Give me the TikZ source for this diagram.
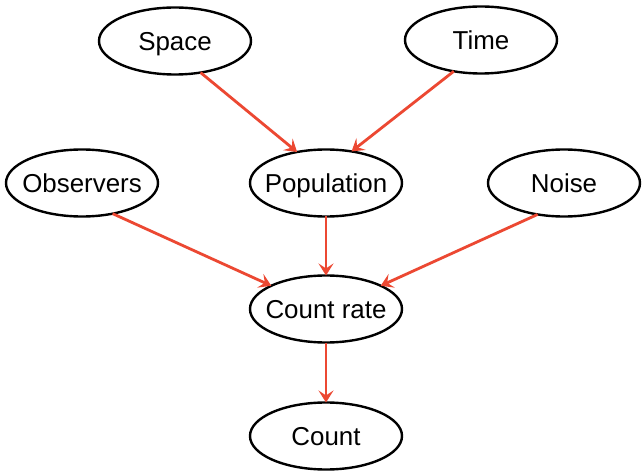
\documentclass[tikz,border=0pt]{standalone}
\usepackage{fontspec}
\setmainfont{Liberation Sans}
\usetikzlibrary{shapes.geometric,arrows.meta}
\definecolor{linkred}{RGB}{236,72,50}
\tikzset{
  var/.style={ellipse, draw=black, line width=2.4bp, minimum width=152bp,
    minimum height=67bp, inner sep=0pt, outer sep=0pt,
    text height=18.6bp, text depth=0pt,
    font=\fontsize{26}{30}\selectfont},
  link/.style={draw=linkred, line width=2.8bp,
    -{Stealth[length=12bp,width=15bp,inset=5bp]}}
}
% zero-width label so every ellipse keeps the same size
\newcommand{\lbl}[1]{\makebox[0pt]{#1}}
\begin{document}
\begin{tikzpicture}[x=1bp,y=1bp]
  \useasboundingbox (0,0) rectangle (642,-471);
  \fill[white] (0,0) rectangle (642,-471);

  \node[var] (space) at (175,-41)  {\lbl{Space}};
  \node[var] (time)  at (481,-40)  {\lbl{Time}};
  \node[var] (obs)   at (82,-183)  {\lbl{Observers}};
  \node[var] (pop)   at (326,-183) {\lbl{Population}};
  \node[var] (noise) at (564,-183) {\lbl{Noise}};
  \node[var] (rate)  at (326,-309) {\lbl{Count rate}};
  \node[var] (count) at (326,-436) {\lbl{Count}};

  \draw[link] (space.-51) -- (pop.133);
  \draw[link] (time.-131) -- (pop.51);
  \draw[link] (obs.-45)   -- (rate.157);
  \draw[link] (pop.south) -- (rate.north);
  \draw[link] (noise.-130) -- (rate.23);
  \draw[link] (rate.south) -- (count.north);
\end{tikzpicture}
\end{document}
